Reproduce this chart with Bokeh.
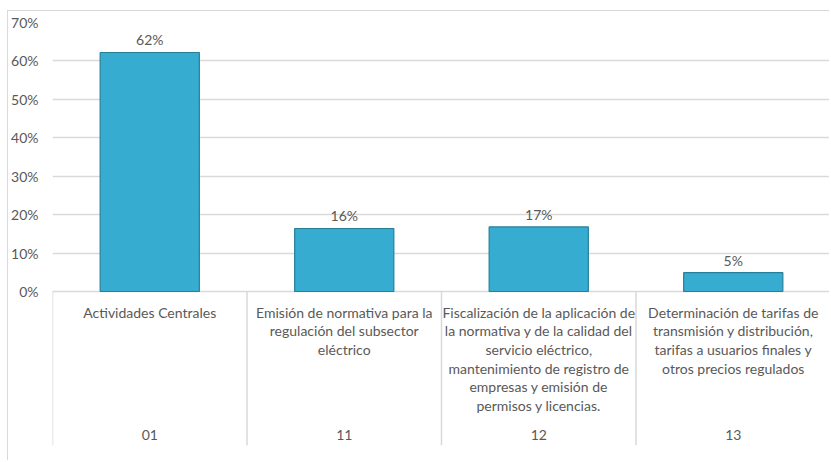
from bokeh.plotting import figure
from bokeh.models import ColumnDataSource, FixedTicker, NumeralTickFormatter, Range1d
from bokeh.core.properties import value
from bokeh.embed import file_html
from bokeh.resources import INLINE

codes = ["01", "11", "12", "13"]
descriptions = [
    "Actividades Centrales",
    "Emisión de normativa para la\nregulación del subsector\neléctrico",
    "Fiscalización de la aplicación de\nla normativa y de la calidad del\nservicio eléctrico,\nmantenimiento de registro de\nempresas y emisión de\npermisos y licencias.",
    "Determinación de tarifas de\ntransmisión y distribución,\ntarifas a usuarios finales y\notros precios regulados",
]
shares = [0.622, 0.164, 0.168, 0.049]
y_ticks = [0.0, 0.1, 0.2, 0.3, 0.4, 0.5, 0.6, 0.7]

FONT = "Lato"
TXT = "#595959"
GRID = "#d9d9d9"

n = len(codes)
centers = [i + 0.5 for i in range(n)]
src = ColumnDataSource(dict(
    x=centers,
    top=shares,
    label=[f"{round(v * 100)}%" for v in shares],
    desc=descriptions,
    code=codes,
    zero=[0.0] * n,
))

y0 = -0.4007
p = figure(width=822, height=450, output_backend="svg", toolbar_location=None,
           x_range=Range1d(0, n), y_range=Range1d(y0, 0.7),
           min_border_left=41, min_border_right=0, min_border_top=11, min_border_bottom=16)
p.styles = {"margin-left": "7px", "margin-top": "10px",
            "border-left": "1px solid #d9d9d9", "border-top": "1px solid #d9d9d9"}
p.outline_line_color = None
p.background_fill_color = "white"
p.border_fill_color = "white"

p.xaxis.visible = False
p.xgrid.visible = False
p.yaxis.ticker = FixedTicker(ticks=y_ticks)
p.yaxis.formatter = NumeralTickFormatter(format="0%")
p.yaxis.axis_line_color = None
p.yaxis.major_tick_line_color = None
p.yaxis.minor_tick_line_color = None
p.yaxis.major_tick_out = 0
p.yaxis.major_tick_in = 0
p.yaxis.major_label_standoff = 14
p.yaxis.major_label_text_font = FONT
p.yaxis.major_label_text_font_size = "14px"
p.yaxis.major_label_text_color = TXT
p.ygrid.ticker = FixedTicker(ticks=y_ticks)
p.ygrid.grid_line_color = GRID
p.ygrid.grid_line_width = 1.5

# category separators below the zero line
sep_x = list(range(n + 1))
p.segment(x0=sep_x, y0=[0.0] * (n + 1), x1=sep_x, y1=[y0] * (n + 1),
          line_color=GRID, line_width=1.5)

# bars
p.vbar(x="x", top="top", bottom=0, width=0.51, source=src,
       fill_color="#36acd0", line_color="#277f99", line_width=1.2)

p.text(x="x", y="top", text="label", source=src, text_align="center",
       text_baseline="bottom", y_offset=-4, text_font=value(FONT),
       text_font_size="14px", text_color=TXT)

p.text(x="x", y="zero", text="desc", source=src, text_align="center",
       text_baseline="top", y_offset=12, text_font=value(FONT),
       text_font_size="14px", text_color=TXT, text_line_height=1.1)

p.text(x="x", y="zero", text="code", source=src, text_align="center",
       text_baseline="middle", y_offset=143, text_font=value(FONT),
       text_font_size="14px", text_color=TXT)

open("out.html", "w").write(file_html(p, INLINE))
